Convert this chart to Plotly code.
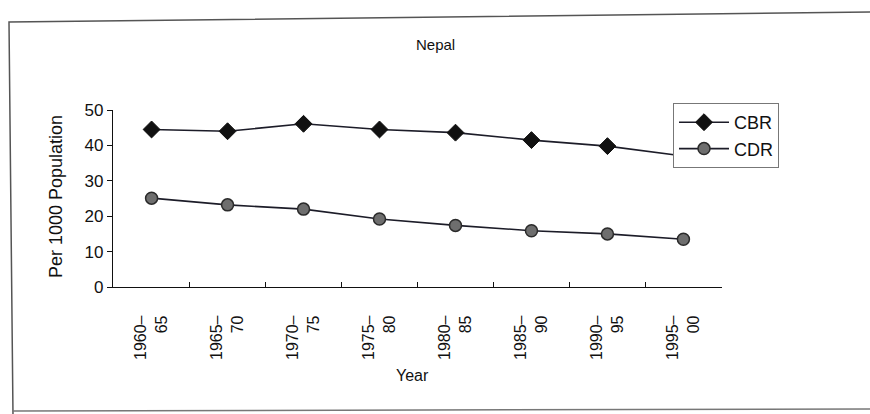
import plotly.graph_objects as go

# Five-year periods and crude birth / death rates (per 1000 population)
periods = ["1960–<br>65", "1965–<br>70", "1970–<br>75", "1975–<br>80",
           "1980–<br>85", "1985–<br>90", "1990–<br>95", "1995–<br>00"]
cbr = [44.5, 44.0, 46.1, 44.5, 43.6, 41.5, 39.8, 37.0]
cdr = [25.1, 23.2, 22.0, 19.2, 17.4, 15.9, 15.0, 13.5]
y_ticks = [0, 10, 20, 30, 40, 50]

W, H = 870, 414
L, R, T, B = 113, 148, 110, 127
PW, PH = W - L - R, H - T - B


def px(x):
    return (x - L) / PW


def py(y):
    return (H - B - y) / PH


FONT = "Liberation Sans, Arial, sans-serif"
LINE = "#1c1c28"

fig = go.Figure()
fig.add_trace(go.Scatter(
    x=periods, y=cbr, name="CBR", mode="lines+markers",
    line=dict(color=LINE, width=1.6),
    marker=dict(symbol="diamond", size=13, color="#111111",
                line=dict(color="#111111", width=1)),
))
fig.add_trace(go.Scatter(
    x=periods, y=cdr, name="CDR", mode="lines+markers",
    line=dict(color=LINE, width=1.6),
    marker=dict(symbol="circle", size=12, color="#6e6e6e",
                line=dict(color="#2a2a2a", width=1.5)),
))

fig.update_layout(
    width=W, height=H,
    margin=dict(l=L, r=R, t=T, b=B),
    paper_bgcolor="white", plot_bgcolor="white",
    font=dict(family=FONT, size=16, color="#111111"),
    showlegend=True,
    legend=dict(
        x=px(673), y=py(103), xanchor="left", yanchor="top",
        bgcolor="white", bordercolor="#777777", borderwidth=1,
        font=dict(size=18, family=FONT, color="#111111"),
        itemwidth=50, tracegroupgap=2,
    ),
    xaxis=dict(
        type="category", showgrid=False, zeroline=False,
        showline=True, linecolor="#111111", linewidth=1.2,
        ticks="inside", tickson="boundaries", ticklen=5,
        tickcolor="#111111", tickangle=-90,
        tickfont=dict(size=16, family=FONT, color="#111111"),
        ticklabelstandoff=21,
    ),
    yaxis=dict(
        range=[0, 50], tickvals=y_ticks, showgrid=False, zeroline=False,
        showline=True, linecolor="#111111", linewidth=1.2,
        ticks="outside", ticklen=5, tickcolor="#111111",
        tickfont=dict(size=17, family=FONT, color="#111111"),
    ),
    annotations=[
        dict(text="Nepal", x=px(435), y=py(44), xref="paper", yref="paper",
             xanchor="center", yanchor="middle",
             showarrow=False, font=dict(size=15, family=FONT)),
        dict(text="Year", x=px(412), y=py(375), xref="paper", yref="paper",
             xanchor="center", yanchor="middle",
             showarrow=False, font=dict(size=16, family=FONT)),
        dict(text="Per 1000 Population", x=px(56), y=py(197),
             xref="paper", yref="paper", textangle=-90,
             xanchor="center", yanchor="middle",
             showarrow=False, font=dict(size=18, family=FONT)),
    ],
    shapes=[
        dict(type="path", xref="paper", yref="paper",
             path=f"M {px(872)},{py(12)} L {px(9)},{py(22)} L {px(13)},{py(416)}",
             line=dict(color="#555555", width=1.5)),
        dict(type="line", xref="paper", yref="paper",
             x0=px(13), y0=py(411), x1=px(872), y1=py(409),
             line=dict(color="#777777", width=1.5)),
    ],
)

fig.write_html("out.html")
